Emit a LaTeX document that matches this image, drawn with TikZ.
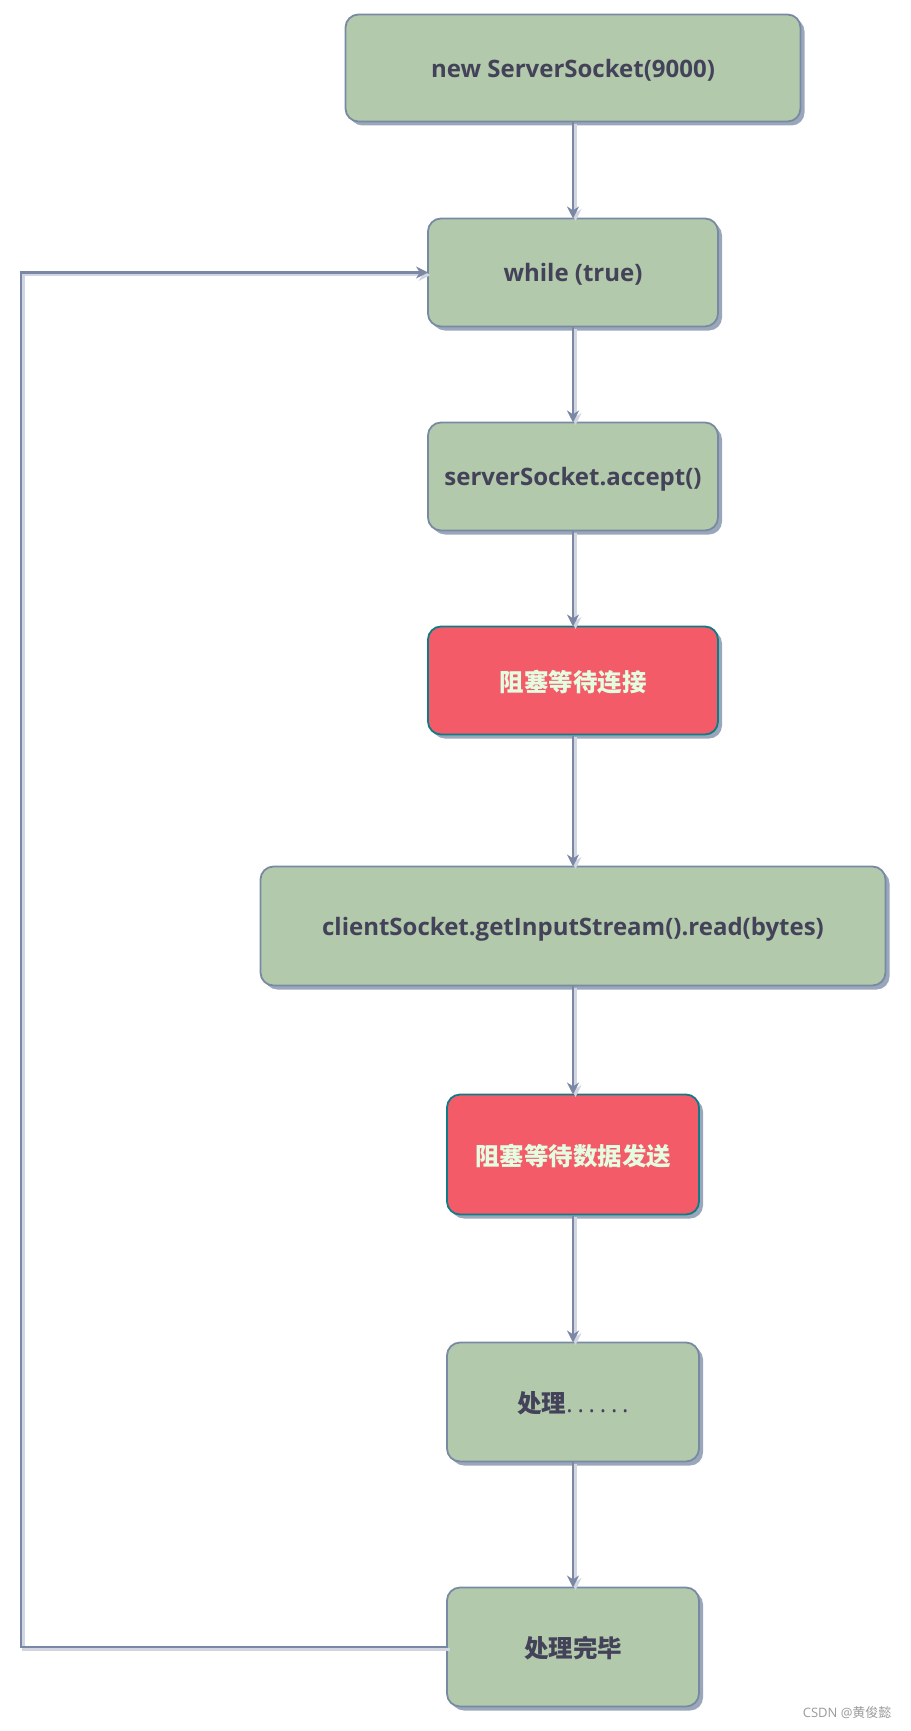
\documentclass[tikz,border=0pt]{standalone}
\usepackage{fontspec}
\setmainfont{Open Sans}
\newfontfamily\cjk{Noto Sans CJK SC}
\usetikzlibrary{positioning,shadows,arrows.meta}
\definecolor{boxgreen}{HTML}{B2C9AB}
\definecolor{boxline}{HTML}{788AA3}
\definecolor{boxtext}{HTML}{434259}
\definecolor{blockred}{HTML}{F45B69}
\definecolor{blockline}{HTML}{0E7C86}
\definecolor{blocktext}{HTML}{E4FDE1}
\definecolor{flowline}{HTML}{7A88A6}
\definecolor{marktext}{HTML}{9A9A9A}
\begin{document}
\begin{tikzpicture}
    [x=1pt, y=-1pt,
     stepbox/.style={draw=boxline, fill=boxgreen, line width=1.8pt,
       rounded corners=13pt, text=boxtext, font=\bfseries\fontsize{24}{28}\selectfont,
       outer sep=0pt, minimum width=290pt, minimum height=108pt, text depth=0pt,
       drop shadow={shadow xshift=4pt, shadow yshift=-4pt, fill=boxline, opacity=0.75}},
     waitbox/.style={stepbox, draw=blockline, fill=blockred, text=blocktext},
     cjktext/.style={font=\cjk\bfseries\fontsize{24.5}{28}\selectfont},
     flow/.style={draw=flowline, line width=2.8pt, -{Stealth[length=12pt,width=12pt]},
       preaction={draw=flowline!35, line width=2.8pt, transform canvas={shift={(2.5pt,-2.5pt)}}}}]
    \useasboundingbox (0,0) rectangle (910,1731);
    \node[stepbox, minimum width=455pt, minimum height=107pt] (new) at (573,68) {new ServerSocket(9000)};
    \node[stepbox, below=97pt of new] (loop) {while (true)};
    \node[stepbox, below=96pt of loop] (accept) {serverSocket.accept()};
    \node[waitbox, cjktext, below=96pt of accept] (waitconn) {阻塞等待连接};
    \node[stepbox, below=132pt of waitconn, minimum width=625pt, minimum height=119pt] (read)
      {clientSocket.getInputStream().read(bytes)};
    \node[waitbox, cjktext, below=109pt of read, minimum width=252pt, minimum height=120pt] (waitdata)
      {阻塞等待数据发送};
    \node[stepbox, below=128pt of waitdata, minimum width=252pt, minimum height=119pt] (work)
      {{\cjk\fontsize{24.5}{28}\selectfont 处理}{\mdseries\addfontfeature{LetterSpace=20}......}};
    \node[stepbox, cjktext, below=126pt of work, minimum width=252pt, minimum height=119pt] (done)
      {处理完毕};
    \coordinate (back) at (21,1647);
    % connectors
    \draw[flow] (new) -- (loop);
    \draw[flow] (loop) -- (accept);
    \draw[flow] (accept) -- (waitconn);
    \draw[flow] (waitconn) -- (read);
    \draw[flow] (read) -- (waitdata);
    \draw[flow] (waitdata) -- (work);
    \draw[flow] (work) -- (done);
    \draw[flow] (done.west) -- (back) |- (loop.west);
    \node[text=marktext, font=\fontsize{13}{15}\selectfont, anchor=east] (mark) at (895,1713)
      {CSDN @{\cjk 黄俊懿}};
\end{tikzpicture}
\end{document}
